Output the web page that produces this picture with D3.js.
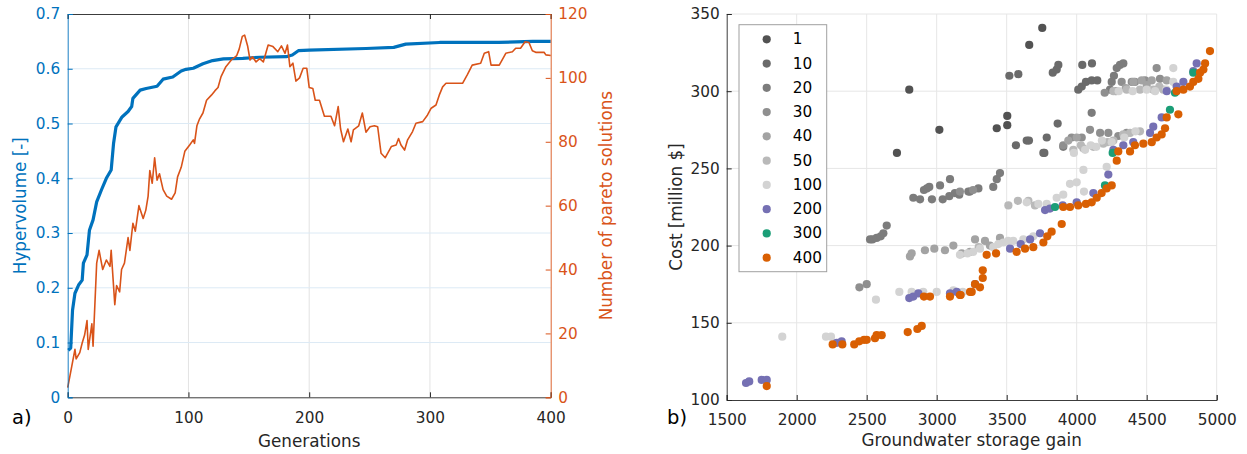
<!DOCTYPE html>
<html><head><meta charset="utf-8">
<script src="https://cdn.jsdelivr.net/npm/d3@7"></script>
<style>
body{margin:0;background:#fff;}
svg{display:block;font-family:"DejaVu Sans",sans-serif;}
</style></head>
<body><svg id="c" width="1247" height="454"></svg>
<script>
// ---------- Panel a data ----------
const hvGen = [0.5,2.5,4,6,9,12,13,16,18,21,24,28,32,36,38,40,45,50,53,54,60,65,74,79,87,94,98,104,112,120,129,145,159,181,186,191,200,247,270,280,308,357,385,400];
const hvVal = [0.086,0.09,0.159,0.19,0.205,0.214,0.245,0.26,0.305,0.324,0.357,0.379,0.4,0.415,0.464,0.494,0.512,0.522,0.531,0.546,0.561,0.564,0.568,0.581,0.585,0.596,0.599,0.601,0.609,0.615,0.618,0.619,0.621,0.622,0.625,0.633,0.634,0.637,0.639,0.645,0.648,0.648,0.65,0.65];
const parGen = [0,3,6,7,10,12,14,16,17,20,21,24,26,29,32,35,36,39,40.5,43,44.6,47,50,51.5,54,56,59,62.5,64.7,66.6,68,70,72,74,76,79,82,86,89,91,94,97,101,104,105,107,109,112,115,119,122,124.5,127,131,135.5,140,142,144.6,146.5,149,151,153,156,159,162,166,170,174,177,180,182,184,186.5,189,192,195,198,200,203,205,208.5,212.6,218,221,224,226,228.4,232,234.7,236.6,241,244,247,250.4,254,256.7,259.5,263,268,272,274,276,279,281.5,285.6,288.4,294,298,301,305,307.7,310.5,313.3,327,331,335,342,345,348.6,350.6,357.4,362.8,368.3,371,375,378.8,382,384.8,387.6,394.5,396,400];
const parVal = [3,9,15,12,14,17,19.5,24,15,23,16,42,46,40,43,41,46,29,35,33,40,42,50,46,54.5,52,60,56,58.6,63,71,67,75,68,70,65,63,62,64,69,72,77,79,80.6,79.5,85,87,89,93,94.6,96,97,100.4,103.5,105.6,107,109,113,113.4,110,105.6,106.6,105,106,105,110.3,109.8,108.2,110,107.7,110.3,103.5,104.6,99,100,103,103,97,96.7,93,93,88,88,85,91,84,80,84,80,83.7,85,89,83,84.7,85,84.7,76.4,75,78.5,79,81,79,77.4,80.6,83.2,85.8,86.3,88.4,90.5,91.5,94.6,97.2,98.3,98.3,101,104,104.6,107.7,108.2,104,104,107.7,108.2,109.3,109.3,111.3,111.1,108.5,108,108,107.2,107];
const aXTicks = [0,100,200,300,400];
const aYLTicks = [0,0.1,0.2,0.3,0.4,0.5,0.6,0.7];
const aYRTicks = [0,20,40,60,80,100,120];

// ---------- Panel b data ----------
const seriesNames = ["1","10","20","30","40","50","100","200","300","400"];
const seriesColors = ["#525252","#6a6a6a","#7c7c7c","#8f8f8f","#a3a3a3","#b9b9b9","#d3d3d3","#7570b3","#1b9e77","#d95f02"];
const s1 = [[2804,301],[2716,260],[3019,275],[3754,341],[3661,330],[3429,276],[3504,284],[3504,278]];
const s10 = [[3519,310],[3583,311],[3829,312],[3857,314],[3869,317],[4040,317],[4109,318],[4011,301],[4036,303],[4066,306],[4107,307],[4147,307],[3864,279],[3786,270],[3566,265],[3643,268],[3659,268],[3769,260],[3762,260]];
const s20 = [[2524,204],[2541,204],[2571,205],[2600,206],[2619,208],[2643,213],[2833,231],[2881,230],[2909,236],[2930,237],[2947,238],[2966,230],[3024,239],[3043,230],[3090,232],[3095,243],[3130,234],[3161,233],[3226,235],[3238,235],[3298,237],[3404,238],[3429,243],[3452,247],[4238,301],[4250,306],[4266,310],[4286,315],[4309,317],[4333,318],[4107,286],[3904,264]];
const s30 = [[2448,173],[2500,175],[3904,265],[3964,270],[4036,270],[4095,275],[4167,273],[4226,273],[4297,271],[4357,273],[4321,306],[4393,306],[4416,306],[4488,307],[4571,315],[4595,308],[3166,235],[3260,236],[4200,299],[4280,300]];
const s40 = [[2809,193],[2821,195],[2916,197],[2983,198],[3059,197],[3119,200],[3179,195],[3238,196],[3274,204],[3345,203],[3452,205],[4405,306],[4464,307],[4536,307],[4643,307],[3940,268],[4000,270],[3380,200],[4350,302],[4500,304]];
const s50 = [[3512,226],[3655,229],[3702,226],[3976,262],[4047,263],[4119,264],[4190,266],[4262,268],[4333,272],[4381,273],[4452,274],[4262,300],[4357,301],[4452,301],[4547,301],[4619,301],[4030,265],[3300,199],[3580,229],[4220,267],[4590,303]];
const s100 = [[1897,141],[2209,141],[2245,141],[2566,165],[2733,170],[2821,170],[2904,170],[3000,170],[3119,171],[3186,170],[3166,194],[3261,196],[3309,198],[3404,199],[3476,202],[3547,203],[3619,204],[3690,206],[3643,228],[3726,227],[3786,227],[3857,231],[3904,233],[3952,240],[4000,241],[4048,249],[4052,235],[4214,251],[4690,315],[4690,306],[4100,265],[4180,268],[4300,300],[4400,300],[4500,301],[3220,195],[3440,201],[3510,203],[3980,260],[4060,262],[4140,264],[4250,267],[4340,270],[4420,274],[4560,300],[4640,301]];
const s200 = [[1638,111],[1661,112],[1750,113],[1786,113],[2286,137],[2321,138],[2804,166],[2833,167],[2869,169],[3095,169],[3143,170],[3274,175],[3524,198],[3600,201],[3667,204],[3738,208],[3774,223],[3809,224],[3900,226],[4000,228],[4119,234],[4226,246],[4262,262],[4333,265],[4404,267],[4524,273],[4547,277],[4607,283],[4643,300],[4714,303],[4762,306],[4833,313],[4857,318]];
const s300 = [[3845,225],[4202,239],[4257,260],[4666,288],[4702,299],[4833,312]];
const s400 = [[1786,109],[2257,136],[2326,136],[2411,136],[2447,138],[2481,139],[2500,139],[2559,140],[2571,142],[2607,142],[2793,144],[2862,146],[2893,148],[2909,167],[2952,167],[3095,167],[3166,168],[3171,168],[3238,170],[3250,170],[3274,175],[3309,173],[3329,179],[3329,184],[3357,194],[3424,195],[3571,196],[3631,198],[3690,199],[3762,202],[3790,206],[3821,209],[3893,214],[3904,225],[3952,225],[4011,226],[4066,227],[4107,228],[4143,231],[4178,234],[4214,237],[4250,239],[4286,255],[4297,261],[4381,261],[4416,265],[4476,266],[4536,267],[4571,270],[4607,272],[4631,276],[4643,283],[4726,285],[4714,300],[4762,301],[4809,303],[4833,306],[4869,308],[4881,312],[4905,314],[4917,318],[4952,326]];
const seriesData = [s1,s10,s20,s30,s40,s50,s100,s200,s300,s400];
const bXTicks = [1500,2000,2500,3000,3500,4000,4500,5000];
const bYTicks = [100,150,200,250,300,350];

// ---------- Drawing ----------
const svg = d3.select("#c");
const dark = "#262626", blue = "#0072BD", orange = "#D95319";
const FF = "DejaVu Sans";
const tickFont = 15.3, labelFont = 16.8;

function styleAxis(a, col){
  a.select(".domain").attr("stroke",col).attr("stroke-width",0.9);
  a.selectAll(".tick line").attr("stroke",col);
  a.selectAll("text").attr("fill",col).style("font-size",tickFont+"px").style("font-family",FF);
}

// Panel a
{
  const L=67.7,R=550.7,T=14,B=397.3;
  const x = d3.scaleLinear().domain([0,400]).range([L,R]);
  const yl = d3.scaleLinear().domain([0,0.7]).range([B,T]);
  const yr = d3.scaleLinear().domain([0,120]).range([B,T]);
  const g = svg.append("g");
  g.selectAll(".vg").data(aXTicks.slice(1,-1)).join("line")
    .attr("x1",d=>x(d)).attr("x2",d=>x(d)).attr("y1",T).attr("y2",B)
    .attr("stroke","#e3e3e3").attr("stroke-width",1);
  g.selectAll(".hg").data(aYLTicks.slice(1,-1)).join("line")
    .attr("x1",L).attr("x2",R).attr("y1",d=>yl(d)).attr("y2",d=>yl(d))
    .attr("stroke","#dceaf5").attr("stroke-width",1);
  const hvPts = hvGen.map((d,i)=>[d,hvVal[i]]);
  const parPts = parGen.map((d,i)=>[d,parVal[i]]);
  g.append("path").datum(hvPts).attr("fill","none").attr("stroke",blue).attr("stroke-width",3.2)
    .attr("stroke-linejoin","round").attr("d",d3.line().x(d=>x(d[0])).y(d=>yl(d[1])));
  g.append("path").datum(parPts).attr("fill","none").attr("stroke",orange).attr("stroke-width",1.6)
    .attr("stroke-linejoin","round").attr("d",d3.line().x(d=>x(d[0])).y(d=>yr(d[1])));
  const xb = g.append("g").attr("transform",`translate(0,${B})`)
    .call(d3.axisBottom(x).tickValues(aXTicks).tickSize(-5).tickPadding(14.5).tickFormat(d3.format("d")));
  const xt = g.append("g").attr("transform",`translate(0,${T})`)
    .call(d3.axisTop(x).tickValues(aXTicks).tickSize(-5).tickFormat(""));
  styleAxis(xb,dark); styleAxis(xt,dark);
  const ya = g.append("g").attr("transform",`translate(${L},0)`)
    .call(d3.axisLeft(yl).tickValues(aYLTicks).tickSize(-5).tickPadding(7.5).tickFormat(d=>d===0?"0":d3.format(".1f")(d)));
  styleAxis(ya,blue);
  const yra = g.append("g").attr("transform",`translate(${R},0)`)
    .call(d3.axisRight(yr).tickValues(aYRTicks).tickSize(-5).tickPadding(7.5).tickFormat(d3.format("d")));
  styleAxis(yra,orange);
  g.append("text").attr("x",(L+R)/2).attr("y",447).attr("text-anchor","middle")
    .attr("fill",dark).style("font-size",labelFont+"px").text("Generations");
  g.append("text").attr("transform",`translate(20,${(T+B)/2}) rotate(-90)`).attr("text-anchor","middle")
    .attr("dominant-baseline","central").attr("fill",blue).style("font-size",labelFont+"px").text("Hypervolume [-]");
  g.append("text").attr("transform",`translate(606,${(T+B)/2}) rotate(-90)`).attr("text-anchor","middle")
    .attr("dominant-baseline","central").attr("fill",orange).style("font-size",labelFont+"px").text("Number of pareto solutions");
  g.append("text").attr("x",12).attr("y",424).attr("fill","#000").style("font-size","19.5px").text("a)");
}

// Panel b
{
  const L=726.7,R=1216.7,T=14,B=400;
  const x = d3.scaleLinear().domain([1500,5000]).range([L,R]);
  const y = d3.scaleLinear().domain([100,350]).range([B,T]);
  const g = svg.append("g");
  g.selectAll(".vg").data(bXTicks.slice(1)).join("line")
    .attr("x1",d=>x(d)).attr("x2",d=>x(d)).attr("y1",T).attr("y2",B)
    .attr("stroke","#e6e6e6").attr("stroke-width",1);
  g.selectAll(".hg").data(bYTicks.slice(1)).join("line")
    .attr("x1",L).attr("x2",R).attr("y1",d=>y(d)).attr("y2",d=>y(d))
    .attr("stroke","#e6e6e6").attr("stroke-width",1);
  seriesData.forEach((s,i)=>{
    g.append("g").selectAll("circle").data(s).join("circle")
      .attr("cx",d=>x(d[0])).attr("cy",d=>y(d[1])).attr("r",4.1)
      .attr("fill",seriesColors[i]);
  });
  const xa = g.append("g").attr("transform",`translate(0,${B})`)
    .call(d3.axisBottom(x).tickValues(bXTicks).tickSize(-5).tickPadding(14).tickFormat(d3.format("d")));
  const ya = g.append("g").attr("transform",`translate(${L},0)`)
    .call(d3.axisLeft(y).tickValues(bYTicks).tickSize(-5).tickPadding(7).tickFormat(d3.format("d")));
  styleAxis(xa,dark); styleAxis(ya,dark);
  g.append("text").attr("x",(L+R)/2).attr("y",446).attr("text-anchor","middle")
    .attr("fill",dark).style("font-size",labelFont+"px").text("Groundwater storage gain");
  g.append("text").attr("transform",`translate(676,${(T+B)/2}) rotate(-90)`).attr("text-anchor","middle")
    .attr("dominant-baseline","central").attr("fill",dark).style("font-size",labelFont+"px").text("Cost [million $]");
  g.append("text").attr("x",667).attr("y",424).attr("fill","#000").style("font-size","19.5px").text("b)");
  const lg = g.append("g");
  lg.append("rect").attr("x",739).attr("y",24.7).attr("width",87.7).attr("height",247)
    .attr("fill","#fff").attr("stroke","#a0a0a0").attr("stroke-width",1);
  const rowY = d3.scaleLinear().domain([0,9]).range([39.3,257.7]);
  seriesNames.forEach((n,i)=>{
    lg.append("circle").attr("cx",766.7).attr("cy",rowY(i)).attr("r",4.1).attr("fill",seriesColors[i]);
    lg.append("text").attr("x",792.7).attr("y",rowY(i)).attr("dominant-baseline","central")
      .attr("fill","#000").style("font-size",tickFont+"px").style("font-family",FF).text(n);
  });
}
</script></body></html>
